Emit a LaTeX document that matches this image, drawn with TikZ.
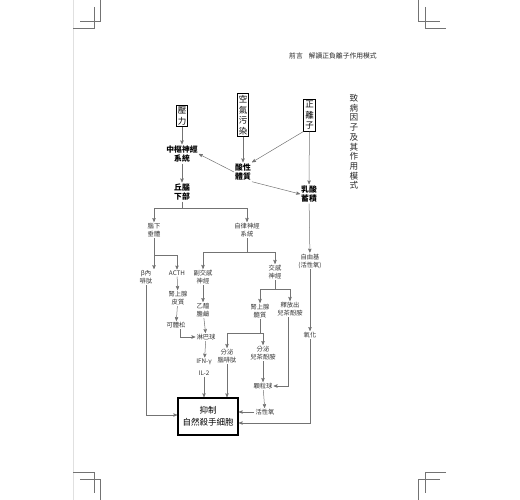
\documentclass[tikz,border=0pt]{standalone}
\usepackage{fontspec}
\setmainfont{Noto Sans CJK TC}
\usepackage{tikz}
\usetikzlibrary{arrows}
\usetikzlibrary{positioning, calc}
\tikzset{
    factor/.style = {draw=black, line width=0.9pt, inner sep=1.6pt, align=center,
        font=\fontsize{8.5}{10.5}\selectfont},
    keynode/.style = {align=center, inner sep=1pt, text=black,
        font=\bfseries\fontsize{7.8}{9.5}\selectfont},
    subnode/.style = {align=center, inner sep=1pt, text=black!80,
        font=\fontsize{6.3}{8}\selectfont},
    resultbox/.style = {draw=black, line width=1.6pt, minimum width=60pt,
        minimum height=37pt, inner sep=0pt, align=center,
        font=\fontsize{8.5}{11.5}\selectfont},
    link/.style = {draw=black!55, line width=0.5pt},
    cropmark/.style = {-, draw=black!55, line width=0.6pt},
}

\begin{document}
\begin{tikzpicture}[->,>=stealth',x=1pt,y=-1pt]
    \useasboundingbox (0,0) rectangle (520,500);
    % page edge and crop marks
    \draw[-, black!12, line width=0.4pt] (73,0) -- (73,500);
    \draw[cropmark] (100,0) -- (100,21) -- (80,21);
    \draw[cropmark] (94,7) -- (94,28) -- (73,28);
    \draw[cropmark] (418,0) -- (418,21) -- (440,21);
    \draw[cropmark] (425,7) -- (425,28) -- (446,28);
    \draw[cropmark] (73,472) -- (94,472) -- (94,493);
    \draw[cropmark] (80,479) -- (100,479) -- (100,500);
    \draw[cropmark] (446,472) -- (425,472) -- (425,493);
    \draw[cropmark] (440,479) -- (418,479) -- (418,500);

    \node (header) [text=black!85, font=\fontsize{6.8}{7}\selectfont] at (333,56) {前言\hspace{6pt}解讀正負離子作用模式};
    \node (title) [align=center, inner sep=0pt, text=black!85, font=\fontsize{8.6}{9.7}\selectfont] at (354,142)
        {致\\病\\因\\子\\及\\其\\作\\用\\模\\式};

    % causes
    \node (pressure) [factor] at (182,116) {壓\\力};
    \node (pollution) [factor] at (243,115) {空\\氣\\污\\染};
    \node (cation) [factor] at (309.5,115.5) {正\\離\\子};

    \node (cns) [keynode] at (182,154) {中樞神經\\系統};
    \node (acid) [keynode] at (243,172) {酸性\\體質};
    \node (thal) [keynode] at (182,192) {丘腦\\下部};
    \node (lactic) [keynode] at (309,194) {乳酸\\蓄積};

    \draw[link] (pressure) -- (cns);
    \draw[link] (pollution) -- (acid);
    \draw[link] (cation.south west) -- (acid.north east);
    \draw[link] (cation) -- (lactic);
    \draw[link] (acid.west) -- (cns.east);
    \draw[link] (acid.south east) -- (lactic.west);
    \draw[link] (cns) -- (thal);

    % second level
    \node (pit) [subnode] at (154,230) {腦下\\垂體};
    \node (ans) [subnode] at (247,230) {自律神經\\系統};
    \node (radical) [subnode] at (310,261) {自由基\\(活性氧)};
    \coordinate (thalsplit) at (182,208);
    \draw[link,-] (thal) -- (thalsplit);
    \draw[link] (thalsplit) -| (pit);
    \draw[link] (thalsplit) -| (ans);
    \draw[link] (lactic) -- (radical);

    % pituitary branch
    \node (beta) [subnode] at (146,277) {β內\\啡肽};
    \node (acth) [subnode] at (177,273) {ACTH};
    \node (cortex) [subnode] at (178,298) {腎上腺\\皮質};
    \node (cortisol) [subnode] at (176,325) {可體松};
    \coordinate (pitsplit) at (154,255);
    \draw[link,-] (pit) -- (pitsplit);
    \draw[link] (pitsplit) -| (acth);
    \draw[link] (pitsplit) -- (pitsplit |- beta.north);
    \draw[link] (acth) -- (cortex);
    \draw[link] (cortex) -- (cortisol);

    % autonomic branch
    \node (para) [subnode] at (203,277) {副交感\\神經};
    \node (ach) [subnode] at (203,310) {乙醯\\膽鹼};
    \node (lymph) [subnode] at (206,337) {淋巴球};
    \node (ifn) [subnode, font=\fontsize{6.3}{12}\selectfont] at (204,367) {IFN-γ\\IL-2};
    \node (symp) [subnode] at (275,272) {交感\\神經};
    \node (medulla) [subnode] at (260,311) {腎上腺\\髓質};
    \node (release) [subnode] at (290,309) {釋放出\\兒茶酚胺};
    \node (enk) [subnode] at (227,356) {分泌\\腦啡肽};
    \node (secrete) [subnode] at (263,353) {分泌\\兒茶酚胺};
    \node (gran) [subnode] at (263,386) {顆粒球};
    \node (ros) [subnode] at (265,412) {活性氧};
    \node (oxid) [subnode] at (310,335) {氧化};

    \coordinate (anssplit) at (247,252);
    \draw[link,-] (ans) -- (anssplit);
    \draw[link] (anssplit) -| (para);
    \draw[link] (anssplit) -| (symp);
    \coordinate (sympsplit) at (275,289);
    \draw[link,-] (symp) -- (sympsplit);
    \draw[link] (sympsplit) -| (medulla);
    \draw[link] (sympsplit) -| (release);
    \coordinate (medsplit) at (260,333);
    \draw[link,-] (medulla) -- (medsplit);
    \draw[link] (medsplit) -| (enk);
    \draw[link] (medsplit) -| (secrete);

    \draw[link] (para) -- (ach);
    \draw[link] (ach) -- (lymph);
    \draw[link] (cortisol.south east) ++(-6,0) |- (lymph.west);
    \draw[link] (lymph) -- (ifn);
    \draw[link] (secrete) -- (gran);
    \draw[link] (release.south) ++(-2,0) |- (gran.east);
    \draw[link] (gran) -- (ros);
    \draw[link] (radical) -- (oxid);

    % result
    \node (nk) [resultbox] at (208,416.5) {抑制\\自然殺手細胞};
    \draw[link] (ifn) -- (ifn |- nk.north);
    \draw[link] (enk) -- (enk |- nk.north);
    \draw[link] (beta) |- (nk.west |- 0,415);
    \draw[link] (ros) -- (ros -| nk.east);
    \draw[link] (oxid) |- (nk.east |- 0,423);
\end{tikzpicture}
\end{document}
